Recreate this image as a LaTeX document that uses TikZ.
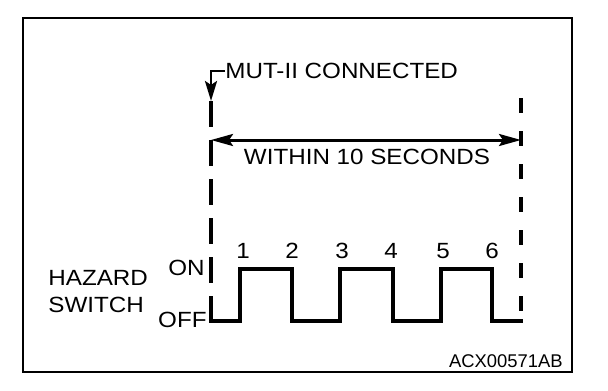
\documentclass[tikz,border=0pt]{standalone}
\usepackage{fontspec}
\setmainfont{Liberation Sans}[FakeStretch=1.1]
\newfontfamily\codefont{Liberation Sans}
\usepackage{tikz}
\usetikzlibrary{arrows.meta, positioning, calc}
\tikzset{
  txt/.style={inner sep=0pt, font=\fontsize{11}{13.5}\selectfont, align=left},
  code/.style={inner sep=0pt, font=\codefont\fontsize{9.2}{11}\selectfont},
  frame/.style={draw=black, line width=1.3pt},
  guide/.style={line width=1.7pt, dash pattern=#1},
  arr/.style={-{Stealth[length=10pt, width=6pt, inset=2pt]}, line width=1.4pt},
  span/.style={{Stealth[length=11pt, width=6pt, inset=2pt]}-{Stealth[length=11pt, width=6pt, inset=2pt]}, line width=1.5pt},
  wave/.style={line width=1.6pt, line cap=rect},
}
\begin{document}
\begin{tikzpicture}[x=0.5pt, y=-0.5pt]
  \useasboundingbox (0,0) rectangle (608,390);
  \draw[frame] (23,18) rectangle (572,372);
  %% Guide lines
  \coordinate (tipL)  at (211,101);
  \coordinate (botL)  at (211,321);
  \coordinate (topR)  at (521,98);
  \coordinate (botR)  at (521,321);
  \coordinate (spanL) at (211,140);
  \coordinate (spanR) at (521,140);
  \draw[guide={on 13pt off 6.5pt}] (tipL) -- (botL);
  \draw[guide={on 7.5pt off 9pt}] (topR) -- (botR);
  \node[txt, anchor=west] (mut) at (225,71) {MUT-II CONNECTED};
  \draw[arr] (mut.west) -| (tipL);
  \draw[span] (spanL) -- (spanR);
  \node[txt] (within) at (367,157) {WITHIN 10 SECONDS};
  %% Switch signal
  \node[txt, anchor=east] (on)  at (205,268) {ON};
  \node[txt, anchor=east] (off) at (207,320) {OFF};
  \node[txt, anchor=west] (haz) at (48,292) {HAZARD\\SWITCH};
  \draw[wave] (botL) -| (240,269) -| (292,321) -| (340,269) -| (393,321)
    -| (441,269) -| (492,321) -- (botR);
  \foreach \n/\x in {1/243,2/292,3/342,4/391,5/443,6/492}
    \node[txt] (edge\n) at (\x,251) {\n};
  \node[code, anchor=east] (ref) at (563,361) {ACX00571AB};
\end{tikzpicture}
\end{document}
